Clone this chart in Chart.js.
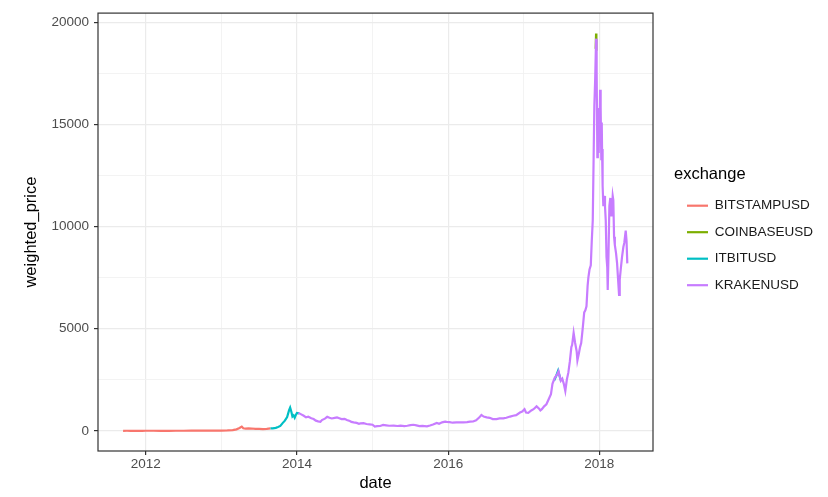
<!DOCTYPE html>
<html>
<head>
<meta charset="utf-8">
<script src="https://cdn.jsdelivr.net/npm/chart.js@4/dist/chart.umd.min.js"></script>
<style>
  body { margin: 0; background: #fff; }
</style>
</head>
<body>
<canvas id="chart" width="828" height="497"></canvas>
<script>
// dates are decimal years
const exchanges = ["BITSTAMPUSD", "COINBASEUSD", "ITBITUSD", "KRAKENUSD"];
const colors = ["#F8766D", "#7CAE00", "#00BFC4", "#C77CFF"];

const bitstampDates = [2011.70, 2011.75, 2011.80, 2011.85, 2011.90, 2011.95, 2012.00, 2012.10, 2012.20, 2012.30,
  2012.40, 2012.50, 2012.60, 2012.65, 2012.70, 2012.80, 2012.90, 2013.00, 2013.08, 2013.15,
  2013.20, 2013.24, 2013.27, 2013.29, 2013.32, 2013.36, 2013.40, 2013.45, 2013.50, 2013.55,
  2013.60, 2013.65];
const bitstampPrices = [5, 5.5, 3.5, 3, 3, 4, 5.5, 6, 5, 5,
  5.5, 7, 10, 11, 12, 11, 13, 14, 20, 35,
  75, 140, 210, 130, 110, 120, 115, 100, 100, 85,
  100, 120];

// coinbase only shows above the others at the December 2017 top
const coinbaseDates = [2017.952, 2017.957, 2017.961];
const coinbasePrices = [18700, 19450, 18600];

const itbitDates = [2013.65, 2013.68, 2013.72, 2013.75, 2013.78, 2013.81, 2013.84, 2013.87, 2013.895, 2013.91,
  2013.925, 2013.94, 2013.955, 2013.97, 2013.985, 2014.00, 2014.03, 2015.00, 2017.40, 2017.43,
  2017.455, 2017.47, 2017.49];
const itbitPrices = [120, 125, 150, 190, 240, 380, 500, 680, 1000, 1140,
  950, 700, 760, 640, 780, 880, 860, null, 2450, 2700,
  2950, 2750, 2480];

const krakenDates = [2014.02, 2014.05, 2014.09, 2014.12, 2014.15, 2014.19, 2014.22, 2014.25, 2014.28, 2014.31,
  2014.33, 2014.37, 2014.40, 2014.43, 2014.46, 2014.50, 2014.53, 2014.56, 2014.59, 2014.63,
  2014.66, 2014.70, 2014.72, 2014.75, 2014.79, 2014.82, 2014.84, 2014.88, 2014.92, 2014.96,
  2015.00, 2015.03, 2015.06, 2015.10, 2015.14, 2015.18, 2015.22, 2015.28, 2015.33, 2015.37,
  2015.42, 2015.46, 2015.50, 2015.54, 2015.58, 2015.62, 2015.66, 2015.72, 2015.76, 2015.80,
  2015.85, 2015.88, 2015.92, 2015.96, 2015.98, 2016.02, 2016.06, 2016.11, 2016.15, 2016.20,
  2016.25, 2016.29, 2016.33, 2016.37, 2016.41, 2016.44, 2016.47, 2016.51, 2016.55, 2016.59,
  2016.64, 2016.68, 2016.73, 2016.77, 2016.82, 2016.86, 2016.90, 2016.95, 2016.98, 2017.01,
  2017.03, 2017.06, 2017.10, 2017.13, 2017.17, 2017.20, 2017.22, 2017.24, 2017.27, 2017.30,
  2017.33, 2017.36, 2017.38, 2017.41, 2017.44, 2017.46, 2017.49, 2017.51, 2017.53, 2017.55,
  2017.57, 2017.59, 2017.61, 2017.63, 2017.64, 2017.66, 2017.68, 2017.70, 2017.71, 2017.73,
  2017.745, 2017.76, 2017.78, 2017.80, 2017.815, 2017.83, 2017.845, 2017.855, 2017.87, 2017.887,
  2017.90, 2017.913, 2017.925, 2017.934, 2017.945, 2017.957, 2017.962, 2017.967, 2017.974, 2017.978,
  2017.982, 2017.987, 2017.992, 2017.996, 2018.000, 2018.005, 2018.010, 2018.015, 2018.020, 2018.026,
  2018.032, 2018.036, 2018.04, 2018.047, 2018.053, 2018.065, 2018.075, 2018.085,
  2018.095, 2018.105, 2018.111, 2018.12, 2018.133, 2018.145, 2018.16, 2018.177, 2018.185, 2018.195,
  2018.205, 2018.221, 2018.235, 2018.25, 2018.261, 2018.27, 2018.283, 2018.30, 2018.318, 2018.33,
  2018.349, 2018.36, 2018.37];
const krakenPrices = [880, 820, 740, 660, 690, 620, 580, 500, 463, 440,
  530, 600, 690, 640, 608, 640, 657, 620, 580, 590,
  530, 480, 440, 415, 390, 350, 370, 380, 338, 320,
  300, 208, 230, 240, 290, 270, 250, 256, 240, 256,
  230, 250, 280, 300, 270, 230, 240, 225, 260, 310,
  390, 350, 420, 450, 440, 430, 400, 415, 420, 420,
  430, 450, 460, 520, 650, 780, 700, 660, 640, 580,
  580, 610, 610, 640, 700, 740, 770, 900, 950, 1060,
  900, 880, 1000, 1060, 1200, 1100, 1000, 1060, 1200, 1300,
  1550, 1800, 2300, 2600, 2750, 2910, 2450, 2550, 2300, 1950,
  2500, 2850, 3400, 4100, 4200, 4800, 4300, 3900, 3450, 3800,
  4100, 4300, 5000, 5800, 5900, 6100, 7100, 7500, 7900, 8100,
  9300, 10300, 13500, 15900, 17200, 19200, 16500, 17600, 13400, 15600,
  14000, 15800, 13600, 14800, 15600, 14400, 16700, 14800, 15800, 13300,
  15100, 13800, 13200, 12000, 11000, 11500, 11000, 10300,
  8500, 8000, 6900, 8400, 11000, 11400, 10500, 11500, 11300, 9500,
  9100, 8700, 8200, 7300, 6650, 7400, 7900, 8500, 9000, 9200,
  9800, 9300, 8200];

const xMajorTicks = [2012, 2014, 2016, 2018];
const xMinorTicks = [2013, 2015, 2017];
const yMajorTicks = [0, 5000, 10000, 15000, 20000];
const yMinorTicks = [2500, 7500, 12500, 17500];

function toPoints(dates, prices) {
  return dates.map((d, i) => ({ x: d, y: prices[i] }));
}

const seriesDates = [bitstampDates, coinbaseDates, itbitDates, krakenDates];
const seriesPrices = [bitstampPrices, coinbasePrices, itbitPrices, krakenPrices];

Chart.defaults.font.family = '"Liberation Sans", Arial, sans-serif';

// panel border like theme_bw
const panelBorder = {
  id: "panelBorder",
  afterDraw(chart) {
    const { ctx, chartArea } = chart;
    ctx.save();
    ctx.strokeStyle = "#333333";
    ctx.lineWidth = 1.2;
    ctx.strokeRect(chartArea.left, chartArea.top, chartArea.right - chartArea.left, chartArea.bottom - chartArea.top);
    ctx.restore();
  },
};

const datasets = exchanges.map((name, i) => ({
  label: name,
  data: toPoints(seriesDates[i], seriesPrices[i]),
  borderColor: colors[i],
  backgroundColor: colors[i],
  borderWidth: 2.2,
  pointRadius: 0,
  tension: 0,
  spanGaps: false,
  order: exchanges.length - 1 - i,
}));

const isMajor = (list, v) => list.includes(v);

new Chart(document.getElementById("chart"), {
  type: "line",
  data: { datasets },
  plugins: [panelBorder],
  options: {
    responsive: false,
    animation: false,
    layout: { padding: { top: 7, left: 0, right: 14, bottom: 0 } },
    plugins: {
      tooltip: { enabled: false },
      legend: {
        position: "right",
        fullSize: false,
        maxWidth: 140,
        title: {
          display: true,
          text: "exchange",
          position: "start",
          color: "#000",
          font: { size: 16.5, lineHeight: 1.2 },
          padding: { top: 7, bottom: 0 },
        },
        labels: {
          usePointStyle: true,
          pointStyle: "line",
          pointStyleWidth: 21,
          padding: 13,
          color: "#1a1a1a",
          font: { size: 13.5 },
          sort: (a, b) => a.datasetIndex - b.datasetIndex,
        },
      },
    },
    scales: {
      x: {
        type: "linear",
        min: 2011.368,
        max: 2018.71,
        afterBuildTicks: (scale) => {
          scale.ticks = xMajorTicks.concat(xMinorTicks).sort().map((v) => ({ value: v }));
        },
        afterFit: (scale) => { scale.height = 46; },
        grid: {
          color: (c) => (isMajor(xMajorTicks, c.tick.value) ? "#EBEBEB" : "#F2F2F2"),
          lineWidth: (c) => (isMajor(xMajorTicks, c.tick.value) ? 1.2 : 0.9),
          tickColor: (c) => (isMajor(xMajorTicks, c.tick.value) ? "#333333" : "rgba(0,0,0,0)"),
          tickLength: 4,
          tickWidth: 1.2,
        },
        border: { display: false },
        ticks: {
          autoSkip: false,
          maxRotation: 0,
          padding: 1,
          color: "#4D4D4D",
          font: { size: 13.5 },
          callback: (v) => (isMajor(xMajorTicks, v) ? String(v) : ""),
        },
        title: {
          display: true,
          text: "date",
          color: "#000",
          font: { size: 16.5, lineHeight: 1 },
          padding: { top: 0, bottom: 5 },
        },
      },
      y: {
        min: -985,
        max: 20450,
        afterBuildTicks: (scale) => {
          scale.ticks = yMajorTicks.concat(yMinorTicks).sort((a, b) => a - b).map((v) => ({ value: v }));
        },
        afterFit: (scale) => { scale.width = 98; },
        grid: {
          color: (c) => (isMajor(yMajorTicks, c.tick.value) ? "#EBEBEB" : "#F2F2F2"),
          lineWidth: (c) => (isMajor(yMajorTicks, c.tick.value) ? 1.2 : 0.9),
          tickColor: (c) => (isMajor(yMajorTicks, c.tick.value) ? "#333333" : "rgba(0,0,0,0)"),
          tickLength: 4,
          tickWidth: 1.2,
        },
        border: { display: false },
        ticks: {
          autoSkip: false,
          padding: 5,
          color: "#4D4D4D",
          font: { size: 13.5 },
          callback: (v) => (isMajor(yMajorTicks, v) ? String(v) : ""),
        },
        title: {
          display: true,
          text: "weighted_price",
          color: "#000",
          font: { size: 16.5, lineHeight: 1 },
          padding: { top: 23, bottom: 0 },
        },
      },
      // empty axis that only keeps the legend off the panel
      y2: {
        position: "right",
        display: true,
        grid: { display: false, drawTicks: false },
        border: { display: false },
        ticks: { display: false },
        afterFit: (scale) => { scale.width = 21; },
      },
    },
  },
});
</script>
</body>
</html>
